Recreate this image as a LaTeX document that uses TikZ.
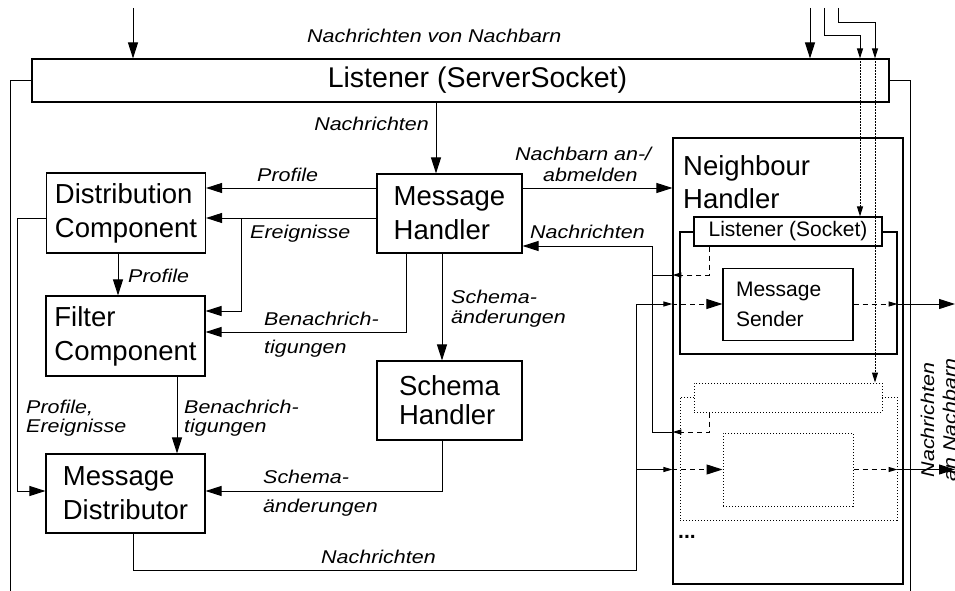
\documentclass[tikz,border=0pt]{standalone}
\usepackage{fontspec}
\setmainfont{Liberation Sans}
\newfontfamily\lblfamily{Liberation Sans}[FakeStretch=1.16]
\usetikzlibrary{arrows.meta,calc}

\newcommand\bxfont{\fontsize{27.5}{34}\selectfont}
\newcommand\lstfont{\fontsize{28.5}{34}\selectfont}
\newcommand\smfont{\fontsize{21}{30}\selectfont}
\newcommand\edgefont{\lblfamily\itshape\fontsize{18.5}{22}\selectfont}

\tikzset{
  box/.style={draw, line width=1.1pt, inner sep=0pt, align=left, font=\bxfont},
  dotbox/.style={draw, line width=1pt, inner sep=0pt, dash pattern=on 1.2pt off 1.8pt},
  wire/.style={line width=1pt},
  dashwire/.style={line width=1pt, dash pattern=on 5pt off 4pt},
  dotwire/.style={line width=1pt, dash pattern=on 1.2pt off 1.8pt},
  tipbig/.style={-{Triangle[length=16pt,width=10pt]}},
  tipmid/.style={-{Triangle[length=10pt,width=6pt]}},
  tipsmall/.style={-{Triangle[length=9pt,width=5pt]}},
  lbl/.style={font=\edgefont, inner sep=0pt, anchor=base west},
}

\begin{document}
\begin{tikzpicture}[x=1pt,y=-1pt]
\useasboundingbox (0,0) rectangle (955,591);

% ---------- main components ----------
\node[box, minimum width=857pt, minimum height=43pt] (lst) at (460.5,80.5) {};
\node[font=\lstfont, anchor=base, inner sep=0pt] (lsttxt) at (477.5,88) {Listener (ServerSocket)};
\node[box, minimum width=159pt, minimum height=80pt] (dc) at (126,213) {Distribution\\Component};
\node[box, minimum width=145pt, minimum height=79pt] (mh) at (449.5,213.5) {Message\\Handler};
\node[box, minimum width=159pt, minimum height=80pt] (fc) at (125.5,336) {Filter\\Component};
\node[box, minimum width=145pt, minimum height=79pt] (sh) at (449.5,400.5) {Schema\\[-5pt]Handler};
\node[box, minimum width=159pt, minimum height=79pt] (md) at (125.5,493.5) {Message\\Distributor};

% ---------- neighbour handler ----------
\node[box, minimum width=230pt, minimum height=446pt] (nh) at (788,361) {};
\node[font=\bxfont, align=left, anchor=north west, inner sep=0pt] (nhtxt) at (683,155) {Neighbour\\[-1pt]Handler};

\node[box, minimum width=217pt, minimum height=122pt] (gb) at (788.5,293) {};
\node[box, fill=white, font=\smfont, minimum width=188pt, minimum height=29pt] (ls) at (788,231.5) {Listener (Socket)};
\node[box, font=\smfont, text width=104pt, minimum width=130pt, minimum height=72pt] (ms) at (788,304.5) {Message\\Sender};

\node[dotbox, minimum width=217pt, minimum height=123pt] (dgb) at (788.5,458.5) {};
\node[dotbox, fill=white, minimum width=188pt, minimum height=29pt] (dls) at (788,397.5) {};
\node[dotbox, minimum width=130pt, minimum height=73pt] (dms) at (788,469.5) {};
\node[font=\smfont\bfseries, anchor=base west, inner sep=0pt] (more) at (678,538) {...};

% ---------- helper coordinates ----------
\coordinate (srcA) at (133,8);
\coordinate (srcB) at (810,8);
\coordinate (srcC) at (824,8);
\coordinate (srcD) at (838,8);
\coordinate (bendC) at (860,36);
\coordinate (bendD) at (875,23);
\coordinate (sinkL) at (10,591);
\coordinate (sinkR) at (910,591);
\coordinate (edgeR) at (955,0);
\coordinate (colMH) at (436,0);
\coordinate (rowP) at (0,188);
\coordinate (rowE) at (0,218);
\coordinate (colE) at (241,218);
\coordinate (rowEF) at (0,311);
\coordinate (colB) at (406,0);
\coordinate (rowBF) at (0,332);
\coordinate (colS) at (442,0);
\coordinate (colJ) at (652,0);
\coordinate (rowN) at (0,246);
\coordinate (rowL1) at (0,275);
\coordinate (rowL2) at (0,432);
\coordinate (rowO1) at (0,304);
\coordinate (colLs) at (709,0);
\coordinate (colP) at (118,0);
\coordinate (colBM) at (177,0);
\coordinate (colL) at (17,0);
\coordinate (rowM) at (0,491);
\coordinate (colMD) at (133,0);
\coordinate (colQ) at (636,0);
\coordinate (rowQ) at (0,570);

% ---------- incoming messages ----------
\draw[wire,tipbig] (srcA) -- (srcA |- lst.north);
\draw[wire,tipbig] (srcB) -- (srcB |- lst.north);
\draw[wire,tipmid] (srcC) |- (bendC) -- (bendC |- lst.north);
\draw[dotwire,tipmid] (bendC |- lst.north) -- (bendC |- ls.north);
\draw[wire,tipmid] (srcD) |- (bendD) -- (bendD |- lst.north);
\draw[dotwire,tipmid] (bendD |- lst.north) -- (bendD |- dls.north);

\draw[wire] (lst.west) -| (sinkL);
\draw[wire] (lst.east) -| (sinkR);

% ---------- internal flow ----------
\draw[wire,tipbig] (colMH |- lst.south) -- (colMH |- mh.north);
\draw[wire,tipbig] (mh.west |- rowP) -- (dc.east |- rowP);
\draw[wire,tipbig] (mh.west |- rowE) -- (dc.east |- rowE);
\draw[wire,tipbig] (colE) |- (fc.east |- rowEF);
\draw[wire,tipbig] (mh.south -| colB) |- (fc.east |- rowBF);
\draw[wire,tipbig] (mh.south -| colS) -- (sh.north -| colS);
\draw[wire,tipbig] (mh.east |- rowP) -- (nh.west |- rowP);

\draw[wire,tipbig] (nh.west |- rowL2) -| (colJ |- rowN) -- (mh.east |- rowN);
\draw[wire] (nh.west |- rowL1) -- (colJ |- rowL1);
\draw[dashwire,tipsmall] (ls.south -| colLs) |- (nh.west |- rowL1);
\draw[dashwire,tipsmall] (dls.south -| colLs) |- (nh.west |- rowL2);

\draw[wire,tipbig] (dc.south -| colP) -- (fc.north -| colP);
\draw[wire,tipbig] (fc.south -| colBM) -- (md.north -| colBM);
\draw[wire,tipbig] (dc.west |- rowE) -| (colL |- rowM) -- (md.west |- rowM);
\draw[wire,tipbig] (sh.south -| colS) |- (md.east |- rowM);

% ---------- outgoing messages ----------
\draw[wire] (md.south -| colMD) |- (colQ |- rowQ) -- (colQ |- rowO1);
\draw[wire,tipsmall] (colQ |- rowO1) -- (nh.west |- rowO1);
\draw[wire,tipsmall] (colQ |- dms.west) -- (nh.west |- dms.west);
\draw[dashwire,tipbig] (nh.west |- rowO1) -- (ms.west |- rowO1);
\draw[dashwire,tipbig] (nh.west |- dms.west) -- (dms.west);
\draw[dashwire,tipsmall] (ms.east |- rowO1) -- (gb.east |- rowO1);
\draw[wire,tipbig] (gb.east |- rowO1) -- (edgeR |- rowO1);
\draw[dashwire,tipsmall] (dms.east) -- (dgb.east |- dms.east);
\draw[wire,tipbig] (dgb.east |- dms.east) -- (dms.east -| edgeR);

% ---------- labels ----------
\node[lbl] (l1) at (307,43) {Nachrichten von Nachbarn};
\node[lbl, anchor=base east] (l2) at (429,131) {Nachrichten};
\node[lbl] (l3) at (257,181) {Profile};
\node[lbl] (l4) at (250,238) {Ereignisse};
\node[lbl] (l5a) at (515,160) {Nachbarn an-/};
\node[lbl] (l5b) at (543,181) {abmelden};
\node[lbl] (l6) at (530,238) {Nachrichten};
\node[lbl] (l7) at (128,282) {Profile};
\node[lbl] (l8a) at (264,325) {Benachrich-};
\node[lbl] (l8b) at (264,353) {tigungen};
\node[lbl] (l9a) at (451,303) {Schema-};
\node[lbl] (l9b) at (451,323) {änderungen};
\node[lbl] (l10a) at (184,413) {Benachrich-};
\node[lbl] (l10b) at (184,432) {tigungen};
\node[lbl] (l11a) at (26,413) {Profile,};
\node[lbl] (l11b) at (26,432) {Ereignisse};
\node[lbl] (l12a) at (263,483) {Schema-};
\node[lbl] (l12b) at (263,512) {änderungen};
\node[lbl] (l13) at (321,563) {Nachrichten};
\node[lbl, anchor=base, rotate=90] (l14a) at (934,420) {Nachrichten};
\node[lbl, anchor=base, rotate=90] (l14b) at (956,420) {an Nachbarn};
\end{tikzpicture}
\end{document}
